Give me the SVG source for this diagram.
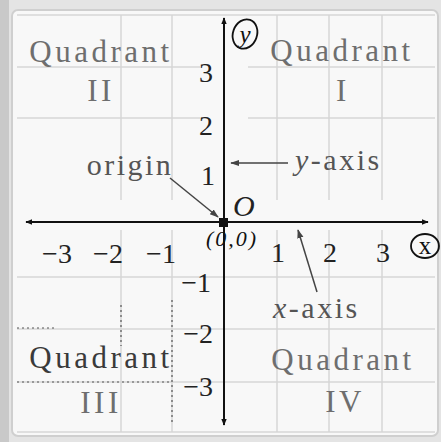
<svg xmlns="http://www.w3.org/2000/svg" width="441" height="442" viewBox="0 0 441 442">
<defs>
<style>
.t{font-family:"Liberation Serif","DejaVu Serif",serif;}
.q{font-size:31px;fill:#6e6e6e;letter-spacing:3.5px;}
.qd{fill:#3a3a3a;}
.n{font-size:28px;fill:#222;}
.lbl{font-size:30px;fill:#555;letter-spacing:2.5px;}
.grid{stroke:#d6d6d6;stroke-width:1.5;fill:none;}
.dash{stroke:#555;stroke-width:1.2;stroke-dasharray:2 3;fill:none;}
.axis{stroke:#111;stroke-width:2;fill:none;}
.ptr{stroke:#444;stroke-width:1.5;fill:none;}
.hand{stroke:#111;stroke-width:1.8;fill:none;}
</style>
<marker id="ah" viewBox="0 0 10 10" refX="9" refY="5" markerWidth="7" markerHeight="7" orient="auto-start-reverse" markerUnits="userSpaceOnUse">
<path d="M0,1 L10,5 L0,9 Z" fill="#111"/>
</marker>
<marker id="ap" viewBox="0 0 10 10" refX="9" refY="5" markerWidth="9" markerHeight="9" orient="auto" markerUnits="userSpaceOnUse">
<path d="M0,1.5 L10,5 L0,8.5 Z" fill="#444"/>
</marker>
</defs>
<rect x="0" y="0" width="441" height="442" fill="#e4e4e4"/>
<rect x="0" y="0" width="9" height="442" fill="#c9c9c9"/>
<rect x="12" y="10" width="426" height="426" rx="6" fill="#f8f8f8" stroke="#cfcfcf" stroke-width="2"/>
<g id="grid">
<path class="grid" d="M121,15V200 M172,15V200 M277,15V200 M329,15V200 M382,15V200 M17,15H435 M17,67H200 M248,67H435 M17,118H200 M248,118H435"/>
<path class="grid" d="M121,230V432 M172,230V432 M277,230V432 M329,230V432 M382,230V432 M17,277H435 M17,329H435 M17,382H435 M17,432H435"/>
<path class="dash" d="M121,305V346 M172,300V425 M17,328H55 M17,382H172"/>
</g>
<g id="connectors">
<line class="axis" x1="224" y1="425" x2="224" y2="18" marker-end="url(#ah)" marker-start="url(#ah)"/>
<line class="axis" x1="26" y1="222" x2="428" y2="222" marker-end="url(#ah)" marker-start="url(#ah)"/>
<line class="ptr" x1="170" y1="178" x2="218" y2="217" marker-end="url(#ap)"/>
<line class="ptr" x1="288" y1="163" x2="231" y2="163" marker-end="url(#ap)"/>
<line class="ptr" x1="317" y1="292" x2="298" y2="230" marker-end="url(#ap)"/>
</g>
<g id="origin">
<rect x="219" y="218" width="9" height="9" fill="#111"/>
<text class="t" x="233" y="216" font-size="30" font-style="italic" fill="#222">O</text>
<text class="t" x="206" y="246" font-size="22" font-style="italic" fill="#111" letter-spacing="2">(0,0)</text>
<text class="t lbl" x="130" y="175" text-anchor="middle">origin</text>
</g>
<g id="y-axis-label">
<text class="t lbl" x="295" y="170"><tspan font-style="italic">y</tspan>-axis</text>
</g>
<g id="x-axis-label">
<text class="t lbl" x="273" y="318"><tspan font-style="italic">x</tspan>-axis</text>
</g>
<g id="y-var">
<ellipse cx="245" cy="34" rx="12" ry="15" transform="rotate(20 245 34)" class="hand"/>
<text class="t" x="245" y="43" font-size="25" font-style="italic" text-anchor="middle" fill="#111">y</text>
</g>
<g id="x-var">
<ellipse cx="425" cy="246" rx="14" ry="12" class="hand"/>
<text class="t" x="425" y="254" font-size="25" text-anchor="middle" fill="#111">x</text>
</g>
<g id="quadrant-1">
<text class="t q" x="342" y="61" text-anchor="middle">Quadrant</text>
<text class="t q" x="343" y="101" text-anchor="middle">I</text>
</g>
<g id="quadrant-2">
<text class="t q" x="101" y="62" text-anchor="middle">Quadrant</text>
<text class="t q" x="101" y="101" text-anchor="middle">II</text>
</g>
<g id="quadrant-3">
<text class="t q qd" x="101" y="368" text-anchor="middle">Quadrant</text>
<text class="t q" x="101" y="413" text-anchor="middle">III</text>
</g>
<g id="quadrant-4">
<text class="t q" x="343" y="370" text-anchor="middle">Quadrant</text>
<text class="t q" x="345" y="412" text-anchor="middle">IV</text>
</g>
<g id="ticks">
<text class="t n" x="206" y="82" text-anchor="middle">3</text>
<text class="t n" x="206" y="135" text-anchor="middle">2</text>
<text class="t n" x="208" y="185" text-anchor="middle">1</text>
<text class="t n" x="211" y="292" text-anchor="end">−1</text>
<text class="t n" x="213" y="343" text-anchor="end">−2</text>
<text class="t n" x="213" y="396" text-anchor="end">−3</text>
<text class="t n" x="57" y="263" text-anchor="middle">−3</text>
<text class="t n" x="108" y="263" text-anchor="middle">−2</text>
<text class="t n" x="161" y="263" text-anchor="middle">−1</text>
<text class="t n" x="278" y="262" text-anchor="middle">1</text>
<text class="t n" x="330" y="262" text-anchor="middle">2</text>
<text class="t n" x="383" y="262" text-anchor="middle">3</text>
</g>
</svg>
